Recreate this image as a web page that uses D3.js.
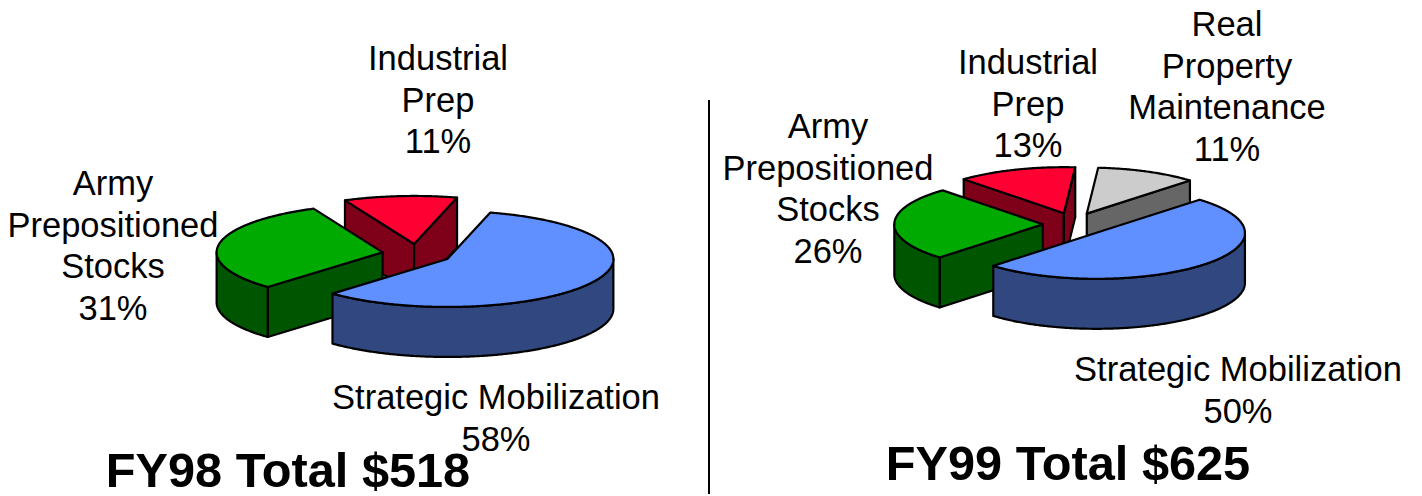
<!DOCTYPE html>
<html>
<head>
<meta charset="utf-8">
<script src="https://cdn.jsdelivr.net/npm/d3@7"></script>
<style>
html, body { margin: 0; padding: 0; background: #fff; overflow: hidden; }
text { font-family: "Liberation Sans", Arial, sans-serif; fill: #000; }
</style>
</head>
<body>
<script>
// data
var categories98 = ["Strategic Mobilization", "Army Prepositioned Stocks", "Industrial Prep"];
var values98 = [58, 31, 11];
var categories99 = ["Strategic Mobilization", "Army Prepositioned Stocks", "Industrial Prep", "Real Property Maintenance"];
var values99 = [50, 26, 13, 11];
var titles = ["FY98 Total $518", "FY99 Total $625"];

// colors per category
var topColor = d3.scaleOrdinal()
	.domain(categories99)
	.range(["#6090ff", "#00aa00", "#ff0033", "#cccccc"]);
var sideColor = d3.scaleOrdinal()
	.domain(categories99)
	.range(["#30487f", "#005500", "#7f0019", "#666666"]);

var width = 1422, height = 496;
var svg = d3.select("body").append("svg")
	.attr("width", width)
	.attr("height", height)
	.style("display", "block");

var rad = Math.PI / 180;

// function makepie, draws one exploded 3d pie
function makepie(cats, vals, o){
	var pie = d3.pie().sort(null)
		.startAngle(o.start * rad)
		.endAngle(o.start * rad + 2 * Math.PI);
	var slices = pie(vals);
	slices.forEach(function(d, i){ d.cat = cats[i]; });

	var line = d3.line();
	var g = svg.append("g");

	// back slices first, the one nearest to the viewer last
	slices.slice().reverse().forEach(function(d){
		var mid = (d.startAngle + d.endAngle) / 2;
		var cx = o.cx + o.explode * o.rx * Math.sin(mid);
		var cy = o.cy - o.explodeY * o.ry * Math.cos(mid);
		var px = function(t){ return cx + o.rx * Math.sin(t); };
		var py = function(t){ return cy - o.ry * Math.cos(t); };
		var sg = g.append("g").attr("class", "slice");

		// walls on the straight cuts, only if they face us
		function wall(t){
			sg.append("path")
				.attr("d", line([[cx, cy], [px(t), py(t)], [px(t), py(t) + o.depth], [cx, cy + o.depth]]) + "Z")
				.call(style, sideColor(d.cat));
		}
		if(Math.sin(d.startAngle) < 0) wall(d.startAngle);
		if(Math.sin(d.endAngle) > 0) wall(d.endAngle);

		// outer wall, front half of the ellipse only
		var a = Math.max(d.startAngle, 90 * rad);
		var b = Math.min(d.endAngle, 270 * rad);
		if(b > a){
			var ts = d3.range(a, b, 0.01).concat([b]);
			var upper = ts.map(function(t){ return [px(t), py(t)]; });
			var lower = ts.slice().reverse().map(function(t){ return [px(t), py(t) + o.depth]; });
			sg.append("path")
				.attr("d", line(upper.concat(lower)) + "Z")
				.call(style, sideColor(d.cat));
		}

		// top face
		var tt = d3.range(d.startAngle, d.endAngle, 0.01).concat([d.endAngle]);
		var pts = [[cx, cy]].concat(tt.map(function(t){ return [px(t), py(t)]; }));
		sg.append("path")
			.attr("d", line(pts) + "Z")
			.call(style, topColor(d.cat));
	});
}

function style(sel, fill){
	sel.attr("fill", fill)
		.attr("stroke", "#000")
		.attr("stroke-width", 2.2)
		.attr("stroke-linejoin", "round");
}

// function label, multi line centered text
function label(lines, x, y){
	var t = svg.append("text")
		.attr("text-anchor", "middle")
		.attr("font-size", 34.5);
	t.selectAll("tspan").data(lines).enter().append("tspan")
		.attr("x", x)
		.attr("y", function(d, i){ return y + i * 41.7; })
		.text(function(d){ return d; });
}

makepie(categories98, values98, {cx: 417, cy: 254, rx: 166, ry: 48, depth: 50, explode: 0.21, explodeY: 0.21, start: 15});
makepie(categories99, values99, {cx: 1074, cy: 224.5, rx: 148.5, ry: 46, depth: 50, explode: 0.21, explodeY: 0.26, start: 44});

// labels 98
label(["Strategic Mobilization", values98[0] + "%"], 496, 409);
label(["Army", "Prepositioned", "Stocks", values98[1] + "%"], 113, 195);
label(["Industrial", "Prep", values98[2] + "%"], 438, 70);

// labels 99
label(["Strategic Mobilization", values99[0] + "%"], 1238, 381);
label(["Army", "Prepositioned", "Stocks", values99[1] + "%"], 828, 138);
label(["Industrial", "Prep", values99[2] + "%"], 1028, 74);
label(["Real", "Property", "Maintenance", values99[3] + "%"], 1227, 36);

// divider
svg.append("line")
	.attr("x1", 709).attr("x2", 709)
	.attr("y1", 100).attr("y2", 494)
	.attr("stroke", "#000")
	.attr("stroke-width", 2);

// titles
svg.selectAll(".title")
	.data(titles)
	.enter().append("text")
	.attr("class", "title")
	.attr("text-anchor", "middle")
	.attr("font-size", 48.7)
	.attr("font-weight", "bold")
	.attr("x", function(d, i){ return i == 0 ? 288 : 1068; })
	.attr("y", function(d, i){ return i == 0 ? 487 : 480; })
	.text(function(d){ return d; });
</script>
</body>
</html>
